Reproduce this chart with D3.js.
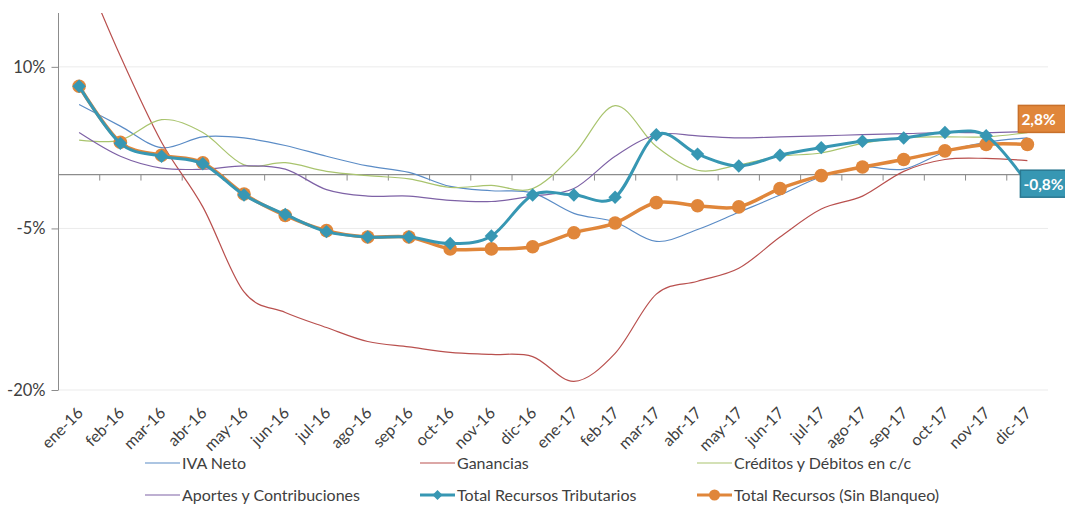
<!DOCTYPE html>
<html><head><meta charset="utf-8">
<script src="https://cdn.jsdelivr.net/npm/d3@7"></script>
<style>
body{margin:0;background:#fff;}
text{font-family:Lato,"Open Sans",sans-serif;fill:#404040;}
</style></head>
<body><svg id="c" width="1065" height="505"></svg>
<script>
const categories = ["ene-16","feb-16","mar-16","abr-16","may-16","jun-16","jul-16","ago-16","sep-16","oct-16","nov-16","dic-16","ene-17","feb-17","mar-17","abr-17","may-17","jun-17","jul-17","ago-17","sep-17","oct-17","nov-17","dic-17"];
const ivaNeto = [6.5,4.5,2.5,3.5,3.4,2.7,1.7,0.8,0.2,-1.1,-1.5,-1.7,-3.6,-4.4,-6.2,-5.1,-3.5,-1.9,-0.2,0.7,0.5,2.1,3.0,3.4];
const ganancias = [20,11.0,3.0,-3.0,-10.9,-12.8,-14.2,-15.5,-16.0,-16.5,-16.7,-16.9,-19.2,-16.6,-11.1,-9.9,-8.7,-5.8,-3.2,-2.0,0.3,1.4,1.5,1.3];
const creditos = [3.2,3.2,5.1,3.9,0.9,1.1,0.3,-0.1,-0.4,-1.2,-1.0,-1.3,1.9,6.4,2.6,0.4,0.9,1.7,2.0,2.9,3.4,3.5,3.5,3.9];
const aportes = [3.9,1.7,0.6,0.5,0.8,0.5,-1.4,-2.0,-2.0,-2.4,-2.5,-2.0,-1.3,1.7,3.7,3.6,3.4,3.5,3.6,3.7,3.8,3.9,3.9,4.0];
const totalTributarios = [8.2,2.9,1.7,1.0,-1.9,-3.7,-5.3,-5.8,-5.8,-6.4,-5.7,-1.9,-1.9,-2.1,3.7,1.9,0.8,1.8,2.5,3.1,3.4,3.9,3.6,-0.8];
const totalSinBlanqueo = [8.2,3.0,1.8,1.1,-1.8,-3.8,-5.2,-5.8,-5.8,-6.9,-6.9,-6.7,-5.4,-4.5,-2.6,-2.9,-3.0,-1.3,-0.1,0.7,1.4,2.2,2.8,2.8];
const yTicks = [10,-5,-20];
const seriesNames = ["IVA Neto","Ganancias","Créditos y Débitos en c/c","Aportes y Contribuciones","Total Recursos Tributarios","Total Recursos (Sin Blanqueo)"];
const colors = ["#5B8CC6","#B9504E","#A9C46E","#7E62A6","#3797B3","#E0863A"];

const svg = d3.select("#c");
const L = 58.5, R = 1048, T = 13, B = 390;
const x = d3.scalePoint().domain(categories).range([L, R]).padding(0.5);
const y = d3.scaleLinear().domain([-20, 15]).range([B, T]);
const fmt = v => (v + "%");

// gridlines
svg.append("g").selectAll("line").data(yTicks).join("line")
  .attr("x1", L).attr("x2", R).attr("y1", d => y(d)).attr("y2", d => y(d))
  .attr("stroke", "#ebebeb").attr("stroke-width", 1);

// y axis
const ya = svg.append("g").attr("transform", `translate(${L},0)`)
  .call(d3.axisLeft(y).tickValues(yTicks).tickFormat(fmt).tickSize(7).tickPadding(6));
ya.select(".domain").attr("stroke", "#8c8c8c").attr("d", `M0,${T}V${B}`);
ya.selectAll(".tick line").attr("stroke", "#8c8c8c");
ya.selectAll(".tick text").attr("font-size", 16.5).style("font-family", "Lato,'Open Sans',sans-serif").attr("fill", "#404040");

// zero axis with ticks between categories
const step = x.step();
const xa = svg.append("g");
xa.append("line").attr("x1", L).attr("x2", R).attr("y1", y(0)).attr("y2", y(0)).attr("stroke", "#8c8c8c").attr("stroke-width", 1.2);
xa.selectAll("line.t").data(categories.slice(1)).join("line").attr("class","t")
  .attr("x1", d => x(d) - step/2).attr("x2", d => x(d) - step/2)
  .attr("y1", y(0)).attr("y2", y(0) + 6).attr("stroke", "#8c8c8c");

// x labels
svg.append("g").selectAll("text").data(categories).join("text")
  .attr("transform", d => `translate(${x(d) + 5},${B + 24}) rotate(-45)`)
  .attr("text-anchor", "end").attr("font-size", 16).text(d => d);

svg.append("clipPath").attr("id", "pc").append("rect")
  .attr("x", L).attr("y", T).attr("width", R - L + 20).attr("height", B - T);

const line = d3.line().x((d, i) => x(categories[i])).y(d => y(d)).curve(d3.curveCatmullRom.alpha(0));
const plot = svg.append("g").attr("clip-path", "url(#pc)");
const thin = [ivaNeto, ganancias, creditos, aportes];
thin.forEach((s, k) => {
  plot.append("path").datum(s).attr("d", line).attr("fill", "none")
    .attr("stroke", colors[k]).attr("stroke-width", 1.2);
});
// thick series
svg.append("path").datum(totalSinBlanqueo).attr("d", line).attr("fill", "none")
  .attr("stroke", colors[5]).attr("stroke-width", 3.5);
svg.append("g").selectAll("circle").data(totalSinBlanqueo).join("circle")
  .attr("cx", (d, i) => x(categories[i])).attr("cy", d => y(d)).attr("r", 6.8).attr("fill", colors[5]);
svg.append("path").datum(totalTributarios).attr("d", line).attr("fill", "none")
  .attr("stroke", colors[4]).attr("stroke-width", 3);
svg.append("g").selectAll("path").data(totalTributarios.slice(0, -1)).join("path")
  .attr("d", d3.symbol().type(d3.symbolSquare).size(90)).attr("fill", colors[4])
  .attr("transform", (d, i) => `translate(${x(categories[i])},${y(d)}) rotate(45)`);

// data labels
function dlabel(val, color, border, bx, by, w) {
  const g = svg.append("g");
  g.append("rect").attr("x", bx).attr("y", by).attr("width", w).attr("height", 27)
    .attr("fill", color).attr("stroke", border).attr("stroke-width", 1.5);
  g.append("text").attr("x", bx + 3).attr("y", by + 19.5).attr("font-size", 15.5).attr("font-weight", "bold")
    .style("fill", "#fff").text(val);
}
const last = categories[categories.length - 1];
dlabel(String(totalSinBlanqueo[23]).replace(".", ",") + "%", colors[5], "#c8702a", x(last) - 9, y(totalSinBlanqueo[23]) - 39, 50);
dlabel(String(totalTributarios[23]).replace(".", ",") + "%", colors[4], "#2a7890", x(last) - 7, y(totalTributarios[23]) - 13, 50);

// legend
const legPos = [[145,463],[420,463],[697,463],[145,495],[420,495],[697,495]];
seriesNames.forEach((n, k) => {
  const [lx, ly] = legPos[k];
  const g = svg.append("g");
  g.append("line").attr("x1", lx).attr("x2", lx + 35).attr("y1", ly).attr("y2", ly)
    .attr("stroke", colors[k]).attr("stroke-width", k >= 4 ? 3 : 1.2);
  if (k === 4) g.append("path").attr("d", d3.symbol().type(d3.symbolSquare).size(50)).attr("fill", colors[k])
    .attr("transform", `translate(${lx + 17.5},${ly}) rotate(45)`);
  if (k === 5) g.append("circle").attr("cx", lx + 17.5).attr("cy", ly).attr("r", 5.5).attr("fill", colors[k]);
  g.append("text").attr("x", lx + 37).attr("y", ly + 6).attr("font-size", 16).text(n);
});
</script></body></html>
